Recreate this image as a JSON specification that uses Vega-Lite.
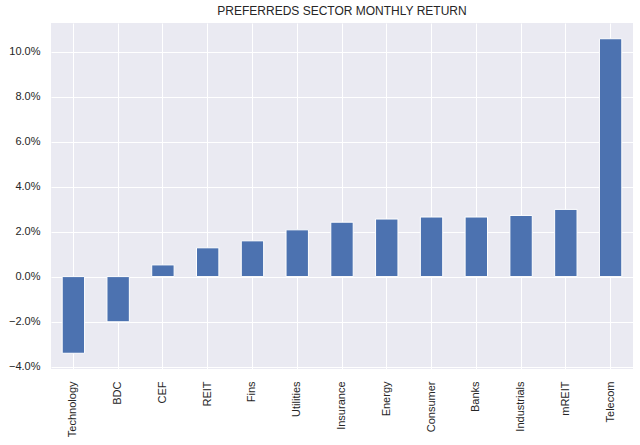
{
  "$schema": "https://vega.github.io/schema/vega-lite/v6.json",
  "width": 582,
  "height": 346,
  "autosize": {"type": "none"},
  "padding": {"left": 51, "top": 23, "right": 7, "bottom": 76},
  "background": "white",
  "title": {"text": "PREFERREDS SECTOR MONTHLY RETURN", "font": "Liberation Sans", "fontSize": 12, "fontWeight": "normal", "color": "#262626", "offset": 5},
  "data": {"values": [
    {"sector": "Technology", "ret": -0.0341},
    {"sector": "BDC", "ret": -0.0201},
    {"sector": "CEF", "ret": 0.0052},
    {"sector": "REIT", "ret": 0.0128},
    {"sector": "Fins", "ret": 0.0159},
    {"sector": "Utilities", "ret": 0.0208},
    {"sector": "Insurance", "ret": 0.0242},
    {"sector": "Energy", "ret": 0.0256},
    {"sector": "Consumer", "ret": 0.0265},
    {"sector": "Banks", "ret": 0.0265},
    {"sector": "Industrials", "ret": 0.0272},
    {"sector": "mREIT", "ret": 0.0299},
    {"sector": "Telecom", "ret": 0.1058}
  ]},
  "config": {
    "view": {"fill": "#EAEAF2", "stroke": null},
    "axis": {"gridColor": "white", "gridWidth": 1, "gridOpacity": 1, "domain": false, "ticks": false, "labelFont": "Liberation Sans", "labelFontSize": 11, "labelColor": "#262626", "title": null}
  },
  "mark": {"type": "bar", "color": "#4C72B0", "stroke": "white", "strokeWidth": 1},
  "encoding": {
    "x": {"field": "sector", "type": "nominal", "sort": null,
      "scale": {"paddingInner": 0.5, "paddingOuter": 0.25},
      "axis": {"labelAngle": -90, "grid": true, "bandPosition": 0.5, "labelPadding": 12, "labelAlign": "right", "labelBaseline": "middle"}},
    "y": {"field": "ret", "type": "quantitative",
      "scale": {"domain": [-0.0411, 0.1128], "nice": false, "zero": false},
      "axis": {"values": [-0.04, -0.02, 0, 0.02, 0.04, 0.06, 0.08, 0.1], "format": ".1%", "grid": true, "labelPadding": 11}}
  }
}
